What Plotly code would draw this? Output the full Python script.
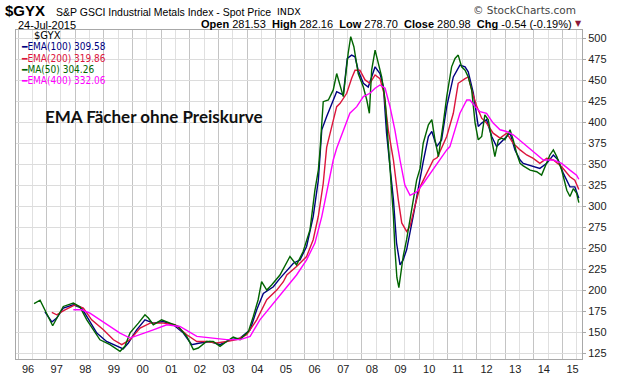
import plotly.graph_objects as go

# ---------------- data (decimal years, index values) ----------------
ma50_t = [1996.56, 1996.77, 1997.21, 1997.58, 1997.93, 1998.16, 1998.40, 1998.86, 1999.21, 1999.56,
          1999.73, 1999.91, 2000.20, 2000.43, 2000.55, 2000.72, 2001.01, 2001.30, 2001.59, 2001.89,
          2002.12, 2002.29, 2002.58, 2002.81, 2003.05, 2003.28, 2003.51, 2003.75, 2004.04, 2004.21,
          2004.38, 2004.50, 2004.68, 2004.85, 2005.14, 2005.49, 2005.72, 2005.95, 2006.19, 2006.36,
          2006.48, 2006.54, 2006.65, 2006.83, 2007.00, 2007.12, 2007.24, 2007.35, 2007.52, 2007.61,
          2007.72, 2007.87, 2008.05, 2008.17, 2008.26, 2008.34, 2008.46, 2008.57, 2008.69, 2008.81,
          2008.86, 2008.92, 2009.01, 2009.10, 2009.15, 2009.22, 2009.29, 2009.36, 2009.44, 2009.56,
          2009.79, 2009.91, 2010.03, 2010.14, 2010.32, 2010.44, 2010.55, 2010.67, 2010.84, 2010.96,
          2011.13, 2011.25, 2011.36, 2011.48, 2011.60, 2011.71, 2011.83, 2011.95, 2012.06, 2012.18,
          2012.29, 2012.41, 2012.53, 2012.64, 2012.76, 2012.88, 2012.99, 2013.17, 2013.28, 2013.40,
          2013.52, 2013.63, 2013.87, 2014.10, 2014.27, 2014.45, 2014.56, 2014.68, 2014.80, 2014.97,
          2015.15, 2015.26, 2015.38, 2015.49, 2015.57]
ma50_v = [184, 188, 157.5, 180.5, 184.5, 180, 164.6, 140.8, 135, 127,
          133, 149, 160.7, 170.6, 166.7, 158.7, 164.6, 160.7, 156.7, 144.8,
          129, 131, 138.8, 138.8, 133, 138.8, 144, 141, 150.8, 168.6,
          188.5, 210, 200, 206, 218, 240, 230, 246, 272, 319,
          343, 367, 424.5, 426.5, 438.5, 458, 442, 430.5, 482, 502,
          490, 458, 442, 426.5, 410.7, 462, 486, 470, 454, 426.5,
          403, 369, 330, 288, 250, 215, 203, 222, 240, 260,
          307, 331, 345, 375, 397, 403, 379, 359, 399, 430.5,
          466, 476, 480, 466, 462, 454, 438.5, 399, 379, 383,
          408.7, 403, 379, 359, 379, 381, 379, 391, 379, 363,
          351, 348, 343, 341, 337, 351, 361, 367, 359, 343,
          319, 311.5, 321, 315.5, 304.26]

ema100_t = [1996.94, 1997.18, 1997.35, 1997.58, 1997.93, 1998.22, 1998.40, 1998.75, 1999.09, 1999.44,
            1999.67, 1999.85, 2000.14, 2000.43, 2000.72, 2001.07, 2001.42, 2001.77, 2002.06, 2002.35,
            2002.70, 2003.05, 2003.40, 2003.75, 2004.10, 2004.33, 2004.56, 2004.91, 2005.14, 2005.61,
            2005.84, 2006.07, 2006.30, 2006.48, 2006.60, 2006.77, 2006.95, 2007.12, 2007.24, 2007.35,
            2007.49, 2007.64, 2007.76, 2007.87, 2008.05, 2008.22, 2008.34, 2008.46, 2008.63, 2008.75,
            2008.86, 2008.92, 2009.10, 2009.21, 2009.33, 2009.44, 2009.56, 2009.79, 2009.97, 2010.14,
            2010.32, 2010.44, 2010.61, 2010.78, 2010.96, 2011.19, 2011.42, 2011.60, 2011.71, 2011.89,
            2012.06, 2012.18, 2012.35, 2012.53, 2012.70, 2012.93, 2013.17, 2013.34, 2013.52, 2013.63,
            2013.98, 2014.21, 2014.45, 2014.68, 2014.85, 2015.03, 2015.26, 2015.43, 2015.57]
ema100_v = [174, 162, 166.7, 178.6, 182.5, 178.6, 168.6, 148.8, 138.8, 133,
            129.8, 137, 152.7, 164.6, 160.7, 162.6, 158.7, 148.8, 135, 137,
            138.8, 135, 141, 142.8, 152.7, 176.5, 196, 204, 214, 232,
            236, 252, 287.6, 331, 391, 406.7, 422.6, 436.4, 434.5, 432.5,
            476, 480, 478, 462, 446.4, 442, 454, 466, 458, 442.4,
            387, 367, 307.5, 256, 230, 236, 248, 288, 323, 353,
            383, 389, 371, 379, 418.6, 454, 468, 466, 460, 434.5,
            395, 399, 403, 383, 371, 379, 387, 367, 355, 351,
            347, 345, 351, 361, 355, 339, 323, 323, 309.58]

ema200_t = [1997.18, 1997.35, 1997.64, 1997.99, 1998.28, 1998.57, 1998.98, 1999.33, 1999.62, 1999.91,
            2000.26, 2000.61, 2001.07, 2001.48, 2001.89, 2002.24, 2002.58, 2002.93, 2003.28, 2003.63,
            2003.98, 2004.33, 2004.68, 2005.03, 2005.26, 2005.38, 2005.72, 2006.07, 2006.30, 2006.48,
            2006.65, 2006.77, 2006.95, 2007.12, 2007.24, 2007.47, 2007.64, 2007.76, 2007.93, 2008.11,
            2008.28, 2008.46, 2008.63, 2008.77, 2008.92, 2009.04, 2009.10, 2009.27, 2009.39, 2009.56,
            2009.68, 2009.85, 2010.03, 2010.26, 2010.49, 2010.63, 2010.70, 2010.96, 2011.19, 2011.36,
            2011.60, 2011.71, 2011.83, 2012.01, 2012.18, 2012.35, 2012.58, 2012.82, 2013.05, 2013.28,
            2013.52, 2013.75, 2013.98, 2014.21, 2014.45, 2014.68, 2014.97, 2015.26, 2015.43, 2015.57]
ema200_v = [173.4, 170.6, 176.5, 182.5, 178.6, 164.6, 152.7, 140.8, 135, 141,
            154.8, 160.7, 160.7, 158.7, 146.8, 138.8, 138.8, 137, 138.8, 141,
            146.8, 164.6, 188.5, 200, 210, 218, 228, 240, 260, 288,
            327, 370, 395, 418.6, 422.6, 434.5, 452, 462, 462, 450.4,
            446.4, 456.3, 452, 434.5, 391, 369, 355, 307.5, 280, 270,
            276, 300, 323, 339, 355, 358, 363, 383, 410.7, 446.4,
            452, 454, 438.5, 418.6, 404.8, 399, 387, 381, 387, 375,
            367, 361, 357, 351, 357, 355, 347, 335, 331, 319.86]

ema400_t = [1997.93, 1998.22, 1998.51, 1998.86, 1999.21, 1999.56, 1999.91, 2000.26, 2000.72, 2001.19,
            2001.65, 2002.24, 2002.81, 2003.28, 2003.75, 2004.10, 2004.44, 2004.91, 2005.38, 2005.72,
            2006.07, 2006.36, 2006.60, 2006.83, 2007.00, 2007.12, 2007.35, 2007.58, 2007.82, 2008.05,
            2008.28, 2008.46, 2008.63, 2008.81, 2008.98, 2009.15, 2009.33, 2009.50, 2009.68, 2009.91,
            2010.14, 2010.38, 2010.61, 2010.96, 2011.07, 2011.25, 2011.42, 2011.66, 2011.77, 2011.95,
            2012.12, 2012.35, 2012.58, 2012.82, 2013.05, 2013.28, 2013.63, 2013.98, 2014.33, 2014.68,
            2014.97, 2015.26, 2015.49, 2015.57]
ema400_v = [176.5, 176.5, 172.5, 164.6, 156.7, 148.8, 142.8, 146.8, 152.7, 158.7,
            156.7, 144.8, 142.8, 141, 141, 144.8, 164.6, 184.5, 205, 218,
            236, 256, 287.6, 327, 355, 369, 391, 410.7, 418.6, 430.5,
            434.5, 440.5, 444.4, 440.5, 418.6, 391, 355, 325, 313, 317,
            327, 339, 351, 367, 371, 391, 410.7, 426.5, 426.5, 418.6,
            412.6, 410.7, 399, 391, 389, 385, 375, 365, 355, 355,
            351, 343, 337, 332.06]

year_ticks = list(range(1996, 2016))
year_labels = ["96", "97", "98", "99", "00", "01", "02", "03", "04", "05",
               "06", "07", "08", "09", "10", "11", "12", "13", "14", "15"]
price_ticks = list(range(125, 501, 25))

symbol = "$GYX"
index_name = "S&P GSCI Industrial Metals Index - Spot Price"
exchange = "INDX"
quote_date = "24-Jul-2015"
q_open, q_high, q_low, q_close = 281.53, 282.16, 278.70, 280.98
q_chg, q_chg_pct = -0.54, -0.19
overlay_text = "EMA Fächer ohne Preiskurve"

series = [
    ("EMA(100)", ema100_t, ema100_v, "#000080"),
    ("EMA(200)", ema200_t, ema200_v, "#dc143c"),
    ("MA(50)", ma50_t, ma50_v, "#006400"),
    ("EMA(400)", ema400_t, ema400_v, "#ff00ff"),
]

# ---------------- layout geometry (pixels) ----------------
W, H = 620, 376
L, R, T, B = 16, 582, 30, 359


def px(x):
    return (x - L) / (R - L)


def py(y):
    return (B - y) / (B - T)


fig = go.Figure()
for name, t, v, col in series:
    fig.add_trace(go.Scatter(x=t, y=v, mode="lines", name=name,
                             line=dict(color=col, width=1.4), hoverinfo="skip"))

ann = []
base = "Liberation Sans, Arial, sans-serif"
ann.append(dict(x=px(3), y=py(11), text="<b>" + symbol + "</b>", font=dict(size=15, color="#000", family=base),
                xanchor="left", yanchor="middle"))
ann.append(dict(x=px(54), y=py(11.5), text=index_name, font=dict(size=10.5, color="#000", family=base),
                xanchor="left", yanchor="middle"))
ann.append(dict(x=px(275), y=py(11.5), text=exchange, font=dict(size=9.5, color="#000", family="DejaVu Sans"),
                xanchor="left", yanchor="middle"))
ann.append(dict(x=px(16), y=py(25), text=quote_date, font=dict(size=11, color="#000", family=base),
                xanchor="left", yanchor="middle"))
quote = (f"<b>Open</b> {q_open:.2f}  <b>High</b> {q_high:.2f}  <b>Low</b> {q_low:.2f}  "
         f"<b>Close</b> {q_close:.2f}  <b>Chg</b> {q_chg:.2f} ({q_chg_pct:.2f}%)")
ann.append(dict(x=px(574), y=py(24.5), text=quote, font=dict(size=11, color="#000", family=base),
                xanchor="right", yanchor="middle"))
ann.append(dict(x=px(578), y=py(24), text="▼", font=dict(size=8, color="#8b1a3a", family="DejaVu Sans"),
                xanchor="center", yanchor="middle"))
ann.append(dict(x=px(578), y=py(10), text="© StockCharts.com", font=dict(size=10.5, color="#444", family="DejaVu Sans"),
                xanchor="right", yanchor="middle"))

# in-chart legend
ann.append(dict(x=px(32), y=py(36), text=symbol, font=dict(size=10, color="#000", family="DejaVu Sans"),
                xanchor="left", yanchor="middle"))
leg_y = [46.7, 58, 69, 80.3]
for (name, t, v, col), yy in zip(series, leg_y):
    ann.append(dict(x=px(19), y=py(yy), text=f"━{name} {v[-1]:.2f}",
                    font=dict(size=10, color=col, family="DejaVu Sans Condensed, DejaVu Sans"),
                    xanchor="left", yanchor="middle"))

ann.append(dict(x=px(43), y=py(117), text="<b>" + overlay_text + "</b>",
                font=dict(size=17, color="#111", family="Lato, Open Sans, sans-serif"),
                xanchor="left", yanchor="middle"))

for a in ann:
    a.update(xref="paper", yref="paper", showarrow=False)

fig.update_layout(
    width=W, height=H,
    margin=dict(l=L, r=W - R, t=T, b=H - B, pad=0, autoexpand=False),
    paper_bgcolor="white", plot_bgcolor="white",
    showlegend=False,
    annotations=ann,
    xaxis=dict(range=[1995.93, 2015.68], tickvals=year_ticks, ticktext=year_labels,
               ticks="", ticklabelshift=10, showgrid=True, gridcolor="#c4c4c4", gridwidth=1,
               minor=dict(tick0=1996.5, dtick=1, showgrid=True, gridcolor="#e0e0e0", gridwidth=1),
               showline=True, linecolor="#a8a8a8", linewidth=1, mirror=True, zeroline=False,
               automargin=False,
               tickfont=dict(size=11, color="#222", family=base), fixedrange=True),
    yaxis=dict(range=[117.9, 509.9], side="right", tickvals=price_ticks,
               ticks="outside", ticklen=3, tickcolor="#a8a8a8",
               showgrid=True, gridcolor="#dcdcdc", gridwidth=1,
               showline=True, linecolor="#a8a8a8", linewidth=1, mirror=True, zeroline=False,
               automargin=False,
               tickfont=dict(size=11, color="#222", family=base), fixedrange=True),
)

fig.write_html("out.html", config={"displayModeBar": False},
               post_script="document.body.style.margin='0';document.body.style.overflow='hidden';")
